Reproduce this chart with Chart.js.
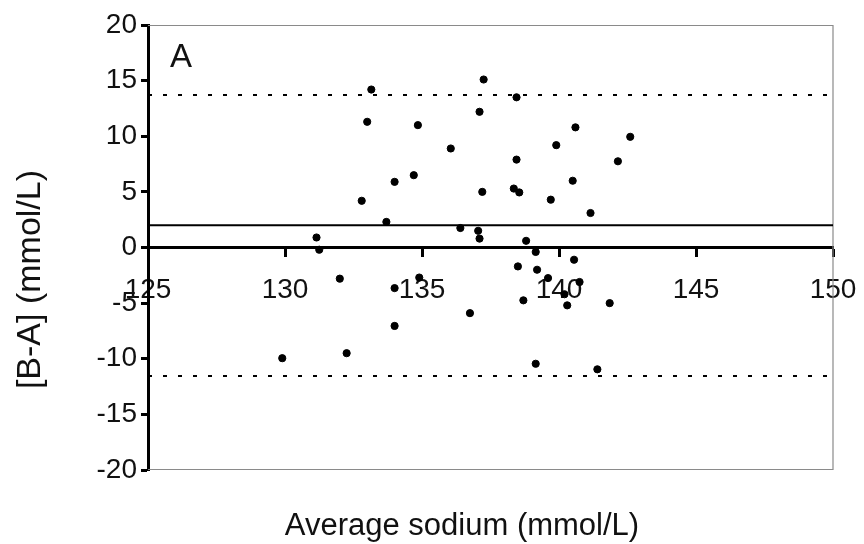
<!DOCTYPE html>
<html>
<head>
<meta charset="utf-8">
<script src="https://cdn.jsdelivr.net/npm/chart.js@4"></script>
<style>
html,body{margin:0;padding:0;background:#fff;}
#wrap{width:864px;height:544px;position:relative;}
</style>
</head>
<body>
<div id="wrap"><canvas id="c" width="864" height="544"></canvas></div>
<script>
// ---- data ----
const avgSodium = [133.15,133.0,134.85,136.05,134.7,134.0,132.8,133.7,131.15,137.25,137.1,137.2,136.4,137.05,137.1,
  138.45,140.6,142.6,139.9,138.45,142.15,140.5,138.35,138.55,139.7,141.15,138.8,131.25,132.0,134.0,134.9,136.75,
  134.0,129.9,132.25,139.15,140.55,138.5,139.2,139.6,140.75,138.7,140.2,140.3,141.85,139.15,141.4];
const diffBA = [14.2,11.3,11.0,8.9,6.5,5.9,4.2,2.3,0.9,15.1,12.2,5.0,1.75,1.5,0.8,
  13.5,10.8,9.95,9.2,7.9,7.75,6.0,5.3,4.95,4.3,3.1,0.6,-0.2,-2.8,-3.65,-2.7,-5.9,
  -7.05,-9.95,-9.5,-0.4,-1.1,-1.7,-2.0,-2.75,-3.1,-4.75,-4.2,-5.2,-5.0,-10.45,-10.95];
const meanDiff = 2.0;
const upperLimit = 13.7;
const lowerLimit = -11.55;
const xRange = [125, 150];
const yRange = [-20, 20];
const xTicks = [125,130,135,140,145,150];
const yTicks = [-20,-15,-10,-5,0,5,10,15,20];
const panelLabel = 'A';
const xTitle = 'Average sodium (mmol/L)';
const yTitle = '[B-A] (mmol/L)';

const FONT = '"Liberation Sans", Arial, sans-serif';
const points = avgSodium.map((x,i)=>({x:x, y:diffBA[i]}));
const hLine = v => xRange.map(x=>({x:x, y:v}));

const framePlugin = {
  id:'frame',
  beforeDatasetsDraw(chart){
    const {ctx, chartArea:a} = chart;
    ctx.save();
    ctx.strokeStyle = '#8a8a8a';
    ctx.lineWidth = 1.2;
    ctx.beginPath();
    ctx.moveTo(a.left, a.top+0.5); ctx.lineTo(a.right, a.top+0.5);
    ctx.lineTo(a.right, a.bottom-0.5); ctx.lineTo(a.left, a.bottom-0.5);
    ctx.stroke();
    ctx.restore();
  },
  afterDraw(chart){
    const {ctx, chartArea:a} = chart;
    const xs = chart.scales.x, ys = chart.scales.y;
    ctx.save();
    ctx.fillStyle = '#111';
    ctx.textBaseline = 'alphabetic';
    ctx.font = '33px ' + FONT;
    ctx.fillText(panelLabel, xs.getPixelForValue(125.8), ys.getPixelForValue(16.2));
    // x-axis title
    ctx.font = '31px ' + FONT;
    ctx.textAlign = 'center';
    ctx.textBaseline = 'middle';
    ctx.fillText(xTitle, 462, a.bottom + 56);
    // y-axis title
    ctx.font = '34px ' + FONT;
    ctx.translate(31, a.top + (a.bottom - a.top) * 0.572);
    ctx.rotate(-Math.PI/2);
    ctx.fillText(yTitle, 0, 0);
    ctx.restore();
  }
};

new Chart(document.getElementById('c'), {
  type:'scatter',
  data:{
    datasets:[
      {data:points, backgroundColor:'#000', borderColor:'#000', pointRadius:3.6, pointHoverRadius:3.6, order:0},
      {type:'line', data:hLine(meanDiff), borderColor:'#000', borderWidth:2, pointRadius:0, fill:false, order:1},
      {type:'line', data:hLine(upperLimit), borderColor:'#000', borderWidth:2, borderDash:[4,11], pointRadius:0, fill:false, order:1},
      {type:'line', data:hLine(lowerLimit), borderColor:'#000', borderWidth:2, borderDash:[4,11], pointRadius:0, fill:false, order:1}
    ]
  },
  options:{
    responsive:false,
    animation:false,
    events:[],
    layout:{padding:{left:0, right:31, top:25, bottom:74}},
    plugins:{
      legend:{display:false},
      tooltip:{enabled:false},
      title:{display:false}
    },
    scales:{
      x:{
        type:'linear', min:xRange[0], max:xRange[1],
        position:{y:0},
        afterBuildTicks(s){ s.ticks = xTicks.map(v=>({value:v})); },
        afterFit(s){ s.paddingLeft = 0; s.paddingRight = 0; },
        ticks:{color:'#111', font:{family:FONT, size:28}, padding:18, maxRotation:0, autoSkip:false},
        grid:{display:true, drawOnChartArea:false, drawTicks:true, tickLength:8, tickWidth:3, tickColor:'#000'},
        border:{display:true, color:'#000', width:3}
      },
      y:{
        type:'linear', min:yRange[0], max:yRange[1],
        afterBuildTicks(s){ s.ticks = yTicks.map(v=>({value:v})); },
        afterFit(s){ s.width = 148; s.paddingTop = 0; s.paddingBottom = 0; },
        ticks:{color:'#111', font:{family:FONT, size:28}, padding:4, autoSkip:false},
        grid:{display:true, drawOnChartArea:false, drawTicks:true, tickLength:7, tickWidth:3, tickColor:'#000'},
        border:{display:true, color:'#000', width:3},
        title:{display:false}
      }
    }
  },
  plugins:[framePlugin]
});
</script>
</body>
</html>
